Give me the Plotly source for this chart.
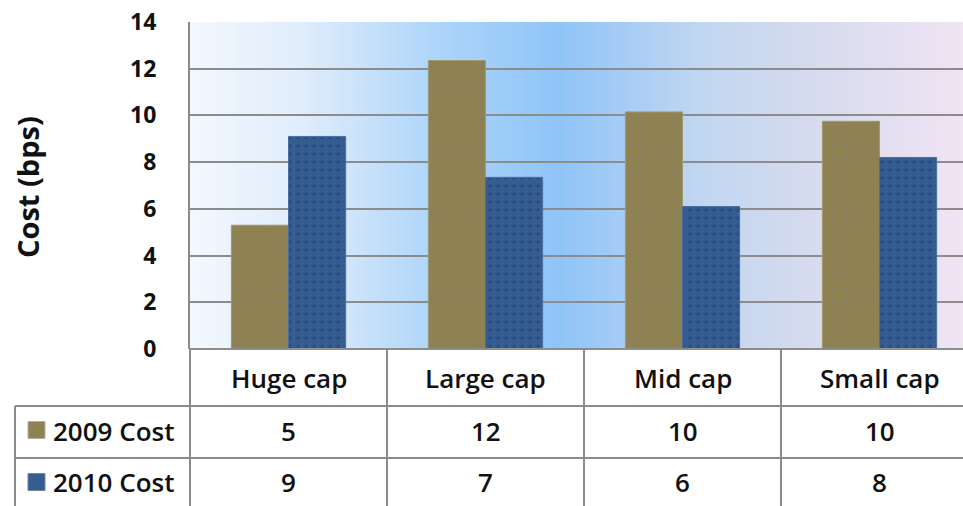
import plotly.graph_objects as go

# Trading cost by market-cap bucket (basis points)
categories = ["Huge cap", "Large cap", "Mid cap", "Small cap"]
cost_2009 = [5.3, 12.35, 10.15, 9.75]
cost_2010 = [9.1, 7.35, 6.1, 8.2]
series_names = ["2009 Cost", "2010 Cost"]
y_ticks = [0, 2, 4, 6, 8, 10, 12, 14]

W, H = 963, 506
OLIVE = "#8f8252"
BLUE = "#365d8f"
GRID = "#8c8c8c"
FONT = "Open Sans"

# plot area edges in pixels
PL, PT, PB = 190, 22, 349
CAT_W = 197


def px(x):
    return x / W


def py(y):
    return 1 - y / H


fig = go.Figure()

fig.add_trace(go.Bar(
    x=categories, y=cost_2009, name=series_names[0],
    marker=dict(color=OLIVE, line=dict(color="#a39a6c", width=1),
                pattern=dict(shape=".", fgcolor="#7c7a86", size=13, solidity=0.04)),
    showlegend=False, hoverinfo="x+y",
))
fig.add_trace(go.Bar(
    x=categories, y=cost_2010, name=series_names[1],
    marker=dict(color=BLUE, line=dict(color="#4a6f9e", width=1),
                pattern=dict(shape=".", fgcolor="#1c3580", size=8, solidity=0.14)),
    showlegend=False, hoverinfo="x+y",
))

shapes = []

# horizontal gradient behind the plot area
stops = [
    (190, (243, 248, 254)),
    (300, (224, 237, 251)),
    (430, (176, 214, 250)),
    (560, (143, 196, 248)),
    (700, (193, 214, 240)),
    (830, (217, 220, 239)),
    (963, (240, 228, 243)),
]


def grad_color(x):
    for (x0, c0), (x1, c1) in zip(stops[:-1], stops[1:]):
        if x0 <= x <= x1:
            t = (x - x0) / (x1 - x0)
            return "rgb(%d,%d,%d)" % tuple(round(a + (b - a) * t) for a, b in zip(c0, c1))
    return "rgb(%d,%d,%d)" % stops[-1][1]


step = 4
for x0 in range(PL, W, step):
    x1 = min(x0 + step + 1, W)
    shapes.append(dict(type="rect", xref="paper", yref="paper", layer="below",
                       x0=px(x0), x1=px(x1), y0=py(PB), y1=py(PT),
                       fillcolor=grad_color(x0 + step / 2), line=dict(width=0)))

# data table grid
line = dict(color=GRID, width=2)
for y in (406, 458):
    shapes.append(dict(type="line", xref="paper", yref="paper",
                       x0=px(15), x1=1, y0=py(y), y1=py(y), line=line))
shapes.append(dict(type="line", xref="paper", yref="paper",
                   x0=px(PL), x1=1, y0=py(PB), y1=py(PB), line=line))
shapes.append(dict(type="line", xref="paper", yref="paper",
                   x0=px(15), x1=px(15), y0=py(406), y1=0, line=line))
shapes.append(dict(type="line", xref="paper", yref="paper",
                   x0=px(PL), x1=px(PL), y0=py(PB), y1=0, line=line))
for i in range(len(categories) - 1):
    shapes.append(dict(type="line", xref="x", yref="paper",
                       x0=i + 0.5, x1=i + 0.5, y0=py(PB), y1=0, line=line))

# legend keys inside the table
for yc, col in ((430, OLIVE), (482, BLUE)):
    shapes.append(dict(type="rect", xref="paper", yref="paper",
                       x0=px(28), x1=px(45), y0=py(yc - 8.5), y1=py(yc + 8.5),
                       fillcolor=col, line=dict(color="#b5b09a" if col == OLIVE else "#6d87ab", width=1)))

annotations = []
tfont = dict(family=FONT, size=26, color="#111111", weight=600)
for i, cat in enumerate(categories):
    annotations.append(dict(x=i, y=py(378), xref="x", yref="paper", text=cat,
                            showarrow=False, font=tfont, xanchor="center", yanchor="middle"))
    annotations.append(dict(x=i, y=py(431), xref="x", yref="paper", text=f"{cost_2009[i]:.0f}",
                            showarrow=False, font=tfont, xanchor="center", yanchor="middle"))
    annotations.append(dict(x=i, y=py(482), xref="x", yref="paper", text=f"{cost_2010[i]:.0f}",
                            showarrow=False, font=tfont, xanchor="center", yanchor="middle"))
for name, yc in zip(series_names, (431, 482)):
    annotations.append(dict(x=px(51), y=py(yc), xref="paper", yref="paper", text=name,
                            showarrow=False, font=tfont, xanchor="left", yanchor="middle"))

annotations.append(dict(x=px(27), y=py(187), xref="paper", yref="paper", text="Cost (bps)",
                        textangle=-90, showarrow=False,
                        font=dict(family=FONT, size=29, color="#111111", weight="bold"),
                        xanchor="center", yanchor="middle"))

fig.update_layout(
    width=W, height=H,
    margin=dict(l=0, r=0, t=0, b=0, autoexpand=False),
    paper_bgcolor="white",
    plot_bgcolor="rgba(0,0,0,0)",
    barmode="group", bargap=0.42, bargroupgap=0,
    shapes=shapes, annotations=annotations,
    xaxis=dict(domain=[px(PL), 1], range=[-0.5, -0.5 + (W - PL) / CAT_W],
               showticklabels=False, showgrid=False, zeroline=False, showline=False,
               automargin=False, fixedrange=True),
    yaxis=dict(domain=[py(PB), py(PT)], range=[0, 14], tickvals=y_ticks,
               showgrid=True, gridcolor=GRID, gridwidth=2, zeroline=False,
               showline=True, linecolor=GRID, linewidth=2,
               ticks="", ticklabelstandoff=27, automargin=False,
               tickfont=dict(family=FONT, size=23, color="#111111", weight="bold"),
               fixedrange=True),
    showlegend=False,
)

fig.write_html("out.html")
